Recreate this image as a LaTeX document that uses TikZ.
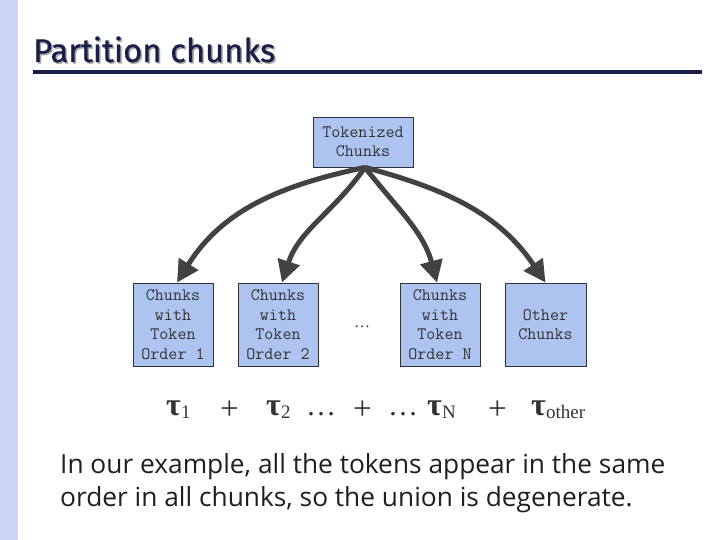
\documentclass[tikz,border=0pt]{standalone}
\usepackage{fontspec}
\setmainfont{Liberation Serif}
\newfontfamily\titlefont[FakeBold=0.6]{Fira Sans}
\newfontfamily\bodyfont{Open Sans}
\usetikzlibrary{arrows.meta}
\definecolor{strip}{HTML}{CCD5F5}
\definecolor{navy}{HTML}{1A1F4A}
\definecolor{boxfill}{HTML}{ADC4F0}
\definecolor{boxline}{HTML}{303040}
\definecolor{arrowc}{HTML}{424242}
\definecolor{mathc}{HTML}{333333}
\begin{document}
\begin{tikzpicture}[x=1pt,y=-1pt,
  chunkbox/.style={draw=boxline, line width=0.8pt, fill=boxfill, text=mathc,
    align=center, inner sep=0pt, minimum width=80pt, minimum height=83pt,
    font=\ttfamily\fontsize{17.5}{19.5}\selectfont},
  link/.style={draw=arrowc, line width=5pt, -{Triangle[length=22pt,width=22pt]}},
  mathtxt/.style={anchor=base west, inner sep=0pt, text=mathc, font=\fontsize{30}{30}\selectfont},
  plustxt/.style={anchor=base west, inner sep=0pt, text=mathc, font=\fontsize{33}{33}\selectfont},
  tautxt/.style={anchor=base west, inner sep=0pt, text=mathc, font=\bfseries\fontsize{32}{32}\selectfont},
  subtxt/.style={anchor=base west, inner sep=0pt, text=mathc, font=\fontsize{19}{19}\selectfont},
  bodytxt/.style={anchor=base west, inner sep=0pt, text=black!88, font=\bodyfont\fontsize{26.3}{26.3}\selectfont}]
\useasboundingbox (0,0) rectangle (720,540);
\fill[white] (0,0) rectangle (720,540);
\fill[strip] (0,0) rectangle (18,540);
% title
\node[anchor=base west, inner sep=0pt, text=black!35, font=\titlefont\fontsize{32.8}{33}\selectfont] (titleshadow) at (34.5,63.5) {Partition chunks};
\node[anchor=base west, inner sep=0pt, text=navy, font=\titlefont\fontsize{32.8}{33}\selectfont] (title) at (33,62) {Partition chunks};
\draw[navy, line width=3.5pt] (33,72) -- (702,72);
% nodes
\node[chunkbox, minimum width=100pt, minimum height=50pt] (top) at (363,142) {Tokenized\\Chunks};
\node[chunkbox] (b1) at (173,324.5) {Chunks\\with\\Token\\Order 1};
\node[chunkbox] (b2) at (278,324.5) {Chunks\\with\\Token\\Order 2};
\node[chunkbox] (b3) at (440,324.5) {Chunks\\with\\Token\\Order N};
\node[chunkbox, minimum width=81pt] (b4) at (545.5,324.5) {Other\\Chunks};
\node[anchor=base, inner sep=0pt, text=mathc, font=\fontsize{16}{16}\selectfont] (mid) at (362,327) {\ldots};
% arrows
\coordinate (src) at ([xshift=2pt]top.south);
\draw[link] (src) to[out=192, in=58] ([xshift=4pt]b1.north);
\draw[link] (src) to[out=235, in=72] ([xshift=4pt]b2.north);
\draw[link] (src) to[out=-52, in=105] ([xshift=-3pt]b3.north);
\draw[link] (src) to[out=-15, in=124] ([xshift=0pt]b4.north);
% formula row
\node[tautxt] (t1) at (166,415) {τ};
\node[subtxt] (s1) at (181,418) {1};
\node[plustxt] (p1) at (220,419) {+};
\node[tautxt] (t2) at (266,415) {τ};
\node[subtxt] (s2) at (281,418) {2};
\node[mathtxt] (d1) at (306,415) {\ldots};
\node[plustxt] (p2) at (353,419) {+};
\node[mathtxt] (d2) at (388,415) {\ldots};
\node[tautxt] (tn) at (427,415) {τ};
\node[subtxt] (sn) at (442,418) {N};
\node[plustxt] (p3) at (488,419) {+};
\node[tautxt] (to) at (531,415) {τ};
\node[subtxt] (so) at (546,418) {other};
% body text
\node[bodytxt] (l1) at (60,473) {In our example, all the tokens appear in the same};
\node[bodytxt] (l2) at (60,506) {order in all chunks, so the union is degenerate.};
\end{tikzpicture}
\end{document}
